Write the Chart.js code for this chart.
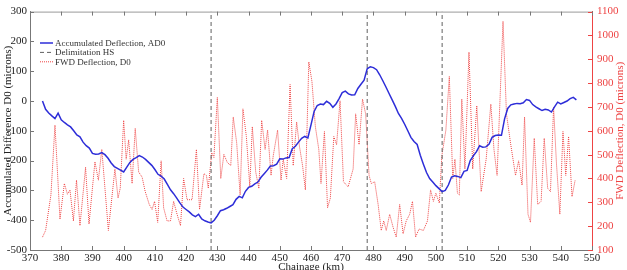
<!DOCTYPE html>
<html>
<head>
<meta charset="utf-8">
<script src="https://cdn.jsdelivr.net/npm/chart.js@4.4.1/dist/chart.umd.min.js"></script>
<style>
  html, body { margin: 0; padding: 0; background: #fff; }
  canvas { display: block; }
</style>
</head>
<body>
<canvas id="chart" width="627" height="270"></canvas>
<script>
// Chainage (km) for the accumulated difference series
const adKm = [374,375,376,377,378,379,380,381,382,383,384,385,386,387,388,389,390,391,392,393,
  394,395,396,397,398,399,400,401,402,403,404,405,406,407,408,409,410,411,412,413,
  414,415,416,417,418,419,420,421,422,423,424,425,426,427,428,429,430,431,432,433,
  434,435,436,437,438,439,440,441,442,443,444,445,446,447,448,449,450,451,452,453,
  454,455,456,457,458,459,460,461,462,463,464,465,466,467,468,469,470,471,472,473,
  474,475,476,477,478,479,480,481,482,483,484,485,486,487,488,489,490,491,492,493,
  494,495,496,497,498,499,500,501,502,503,504,505,506,507,508,509,510,511,512,513,
  514,515,516,517,518,519,520,521,522,523,524,525,526,527,528,529,530,531,532,533,
  534,535,536,537,538,539,540,541,542,543,544,545];
const adValues = [0,-28,-40,-50,-59,-41,-63,-72,-80,-87,-100,-114,-120,-138,-150,-158,-176,-179,-178,-173,
  -180,-192,-208,-220,-226,-232,-238,-222,-206,-196,-190,-183,-188,-196,-206,-216,-230,-246,-252,-262,
  -280,-298,-311,-326,-342,-356,-364,-372,-382,-388,-380,-396,-402,-406,-409,-400,-385,-368,-365,-360,
  -354,-348,-330,-320,-325,-303,-290,-286,-278,-272,-256,-244,-232,-218,-217,-212,-194,-195,-191,-190,
  -160,-152,-138,-125,-119,-124,-80,-35,-15,-10,-12,-1,-8,-21,-10,8,28,33,24,20,
  21,42,56,70,108,115,112,105,88,68,47,25,4,-18,-42,-58,-78,-100,-122,-136,
  -146,-182,-212,-240,-260,-272,-284,-294,-304,-300,-282,-255,-251,-253,-257,-236,-233,-200,-184,-170,
  -150,-155,-154,-145,-122,-116,-114,-115,-60,-25,-13,-10,-8,-9,-6,5,2,-12,-20,-26,
  -32,-28,-30,-37,-20,-4,-10,-5,0,8,12,4];

// Chainage (km) and FWD deflection D0 (microns)
const d0Km = [374.0,375.0,376.7,378.0,379.6,381.0,382.0,382.8,383.9,384.9,
  386.0,387.8,388.9,390.8,391.9,393.0,395.1,397.2,398.2,398.9,
  400.0,400.8,401.6,402.7,403.7,404.8,405.9,406.9,408.2,409.1,
  409.9,410.9,412.0,412.8,413.9,415.0,416.0,417.1,418.2,419.2,
  420.3,421.9,423.3,424.3,425.7,426.5,427.1,428.2,428.9,430.0,
  431.1,432.1,433.2,434.3,435.1,436.2,437.3,438.2,439.3,440.4,
  441.2,442.3,443.3,444.2,445.3,446.1,447.2,447.9,449.3,450.4,
  451.1,452.2,453.3,454.3,455.4,456.3,457.3,458.2,459.3,460.3,
  461.4,462.5,463.2,464.3,465.3,466.2,467.3,468.2,469.3,470.4,
  471.9,473.5,474.3,475.4,476.5,477.5,478.6,479.3,480.4,481.5,
  482.5,483.3,484.1,485.2,486.3,487.3,488.4,489.5,490.5,491.6,
  492.5,493.5,494.6,496.0,497.3,498.3,499.2,500.0,501.1,501.9,
  503.2,504.3,505.4,506.1,506.9,507.5,508.3,509.3,510.6,511.8,
  513.1,514.5,516.1,517.6,518.6,519.6,521.5,522.6,523.9,525.5,
  526.5,527.6,528.4,529.5,530.3,531.5,532.6,533.7,534.7,535.8,
  536.7,537.7,538.6,539.7,540.7,541.6,542.5,543.6,544.6];
const d0Values = [154,182,331,624,229,379,334,352,222,393,
  202,447,209,470,393,522,182,440,318,359,
  644,481,562,379,610,427,406,345,291,270,
  304,216,474,277,222,222,304,250,202,400,
  311,311,522,270,420,413,359,508,488,740,
  400,501,467,454,658,549,331,692,576,365,
  617,427,358,644,522,603,413,495,603,393,
  481,400,794,454,637,535,454,352,889,807,
  617,522,379,597,277,318,576,542,726,386,
  365,440,671,542,733,671,413,379,386,291,
  182,222,182,250,195,154,291,168,222,250,
  304,154,188,182,222,352,304,338,297,495,
  603,828,400,481,338,331,733,440,930,440,
  705,345,481,712,522,413,1059,671,549,413,
  474,372,658,250,216,569,291,304,569,359,
  345,699,467,250,597,413,576,324,393];

// homogeneous section limits (km)
const delimitations = [428, 478, 502];

const leftRange = [-500, 300];
const rightRange = [100, 1100];

const BLUE = '#2d2dd8';
const RED = '#ee4444';
const GREY = '#606060';
const FONT = 'Liberation Serif';
const rightTitle = 'FWD Deflection, D0 (microns)';

const dashSets = delimitations.map((km, i) => ({
  label: i === 0 ? 'Delimitation HS' : '',
  data: [{x: km, y: leftRange[0]}, {x: km, y: leftRange[1]}],
  yAxisID: 'y',
  borderColor: GREY,
  borderWidth: 1,
  borderDash: [4, 3],
  pointRadius: 0,
  order: 1
}));

// inward tick marks + top border, like the original plot frame
const frameTicks = {
  id: 'frameTicks',
  afterDatasetsDraw(chart) {
    const {ctx, chartArea: a, scales} = chart;
    ctx.save();
    ctx.lineWidth = 1;
    ctx.strokeStyle = '#999';
    ctx.beginPath();
    ctx.moveTo(a.left, a.top + 0.5);
    ctx.lineTo(a.right, a.top + 0.5);
    ctx.stroke();
    ctx.strokeStyle = '#777';
    ctx.beginPath();
    scales.x.ticks.forEach(t => {
      const px = Math.round(scales.x.getPixelForValue(t.value)) + 0.5;
      ctx.moveTo(px, a.bottom); ctx.lineTo(px, a.bottom - 4);
      ctx.moveTo(px, a.top); ctx.lineTo(px, a.top + 4);
    });
    scales.y.ticks.forEach(t => {
      const py = Math.round(scales.y.getPixelForValue(t.value)) + 0.5;
      ctx.moveTo(a.left, py); ctx.lineTo(a.left + 4, py);
    });
    ctx.stroke();
    ctx.strokeStyle = RED;
    ctx.beginPath();
    scales.y1.ticks.forEach(t => {
      const py = Math.round(scales.y1.getPixelForValue(t.value)) + 0.5;
      ctx.moveTo(a.right, py); ctx.lineTo(a.right - 4, py);
    });
    ctx.stroke();
    ctx.restore();
  }
};

// legend inside the plot (top left) and the right axis title read bottom-to-top
const insideLegend = {
  id: 'insideLegend',
  afterDraw(chart) {
    const {ctx, chartArea: a} = chart;
    const items = chart.data.datasets.filter(d => d.label);
    ctx.save();
    ctx.font = '9px "' + FONT + '"';
    ctx.textBaseline = 'middle';
    items.forEach((d, i) => {
      const y = 43 + i * 9.4;
      ctx.strokeStyle = d.borderColor;
      ctx.lineWidth = d.borderWidth;
      ctx.setLineDash(d.borderDash || []);
      ctx.beginPath();
      ctx.moveTo(40, y);
      ctx.lineTo(53, y);
      ctx.stroke();
      ctx.fillStyle = '#333';
      ctx.fillText(d.label, 55, y + 0.5);
    });
    ctx.setLineDash([]);
    ctx.translate(620, (a.top + a.bottom) / 2);
    ctx.rotate(-Math.PI / 2);
    ctx.font = '11px "' + FONT + '"';
    ctx.textAlign = 'center';
    ctx.fillStyle = RED;
    ctx.fillText(rightTitle, 0, 0);
    ctx.restore();
  }
};

new Chart(document.getElementById('chart'), {
  type: 'line',
  data: {
    datasets: [
      {
        label: 'Accumulated Deflection, AD0',
        data: adKm.map((km, i) => ({x: km, y: adValues[i]})),
        yAxisID: 'y',
        borderColor: BLUE,
        borderWidth: 1.5,
        pointRadius: 0,
        order: 0
      },
      ...dashSets,
      {
        label: 'FWD Deflection, D0',
        data: d0Km.map((km, i) => ({x: km, y: d0Values[i]})),
        yAxisID: 'y1',
        borderColor: RED,
        borderWidth: 1,
        borderDash: [1, 1],
        pointRadius: 0,
        order: 2
      }
    ]
  },
  options: {
    responsive: false,
    animation: false,
    devicePixelRatio: 1,
    layout: { padding: { top: 5, left: 0, right: 0, bottom: 0 } },
    plugins: { legend: { display: false }, tooltip: { enabled: false } },
    scales: {
      x: {
        type: 'linear',
        min: 370, max: 550,
        grid: { display: false, drawTicks: false },
        border: { display: true, color: '#777' },
        ticks: { stepSize: 10, autoSkip: false, padding: 2, color: '#222', font: { family: FONT, size: 11 } },
        title: { display: true, text: 'Chainage (km)', color: '#222', font: { family: FONT, size: 11 }, padding: { top: 0, bottom: -4 } },
        afterFit(s) { s.height = 20; }
      },
      y: {
        position: 'left',
        min: leftRange[0], max: leftRange[1],
        grid: { display: false, drawTicks: false },
        border: { display: true, color: '#777' },
        ticks: { stepSize: 100, padding: 3, color: '#222', font: { family: FONT, size: 11 }, callback: v => String(v) },
        title: { display: true, text: 'Accumulated Difference D0 (microns)', color: '#222', font: { family: FONT, size: 11 }, padding: { top: 2, bottom: 0 } },
        afterFit(s) { s.width = 30; }
      },
      y1: {
        position: 'right',
        min: rightRange[0], max: rightRange[1],
        grid: { display: false, drawTicks: false },
        border: { display: true, color: RED },
        ticks: { stepSize: 100, padding: 5, color: RED, font: { family: FONT, size: 11 }, callback: v => String(v) },
        afterFit(s) { s.width = 35; }
      }
    }
  },
  plugins: [frameTicks, insideLegend]
});
</script>
</body>
</html>
